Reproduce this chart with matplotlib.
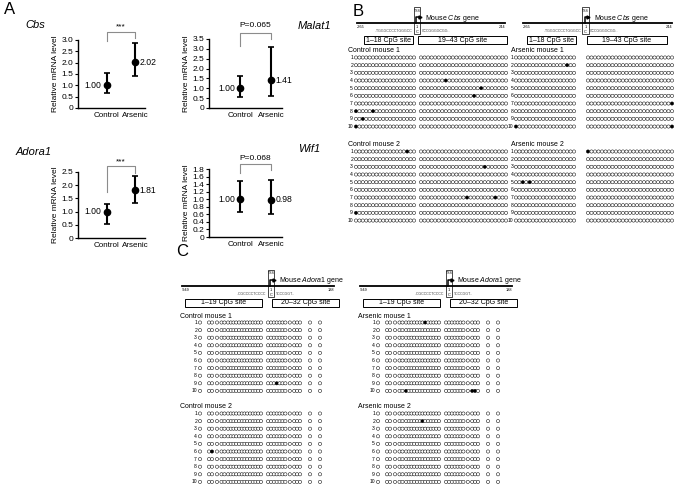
import numpy as np
import matplotlib.pyplot as plt
from matplotlib.patches import Rectangle

plt.rcParams['font.family'] = ['Liberation Sans', 'DejaVu Sans']
plt.rcParams['mathtext.fontset'] = 'custom'
plt.rcParams['mathtext.rm'] = 'Liberation Sans'
plt.rcParams['mathtext.it'] = 'Liberation Sans:italic'

W, H = 677, 493

# ---- panel A: relative mRNA level (mean, lower, upper) ----
groups = ['Control', 'Arsenic']
cbs_mean = [1.00, 2.02]
cbs_lo = [0.68, 1.40]
cbs_hi = [1.55, 2.87]
malat1_mean = [1.00, 1.41]
malat1_lo = [0.58, 0.62]
malat1_hi = [1.63, 3.07]
adora1_mean = [1.00, 1.81]
adora1_lo = [0.53, 1.34]
adora1_hi = [1.27, 2.34]
wif1_mean = [1.00, 0.98]
wif1_lo = [0.67, 0.60]
wif1_hi = [1.48, 1.52]
sig_labels = ['***', 'P=0.065', '***', 'P=0.068']

# ---- panel B/C: methylated CpG sites per clone (row -> sites) ----
cbs_ctrl1 = {4: [26], 5: [36], 6: [34], 8: [1, 6], 9: [3], 10: [1]}
cbs_ctrl2 = {1: [16], 3: [37], 7: [32, 40], 9: [1]}
cbs_ars1 = {2: [16], 7: [43], 10: [1, 43]}
cbs_ars2 = {1: [19], 5: [3, 5]}
adora_ctrl1 = {9: [23]}
adora_ctrl2 = {6: [3]}
adora_ars1 = {1: [14], 10: [7, 28, 29]}
adora_ars2 = {2: [13]}

fig = plt.figure(figsize=(W / 100, H / 100), dpi=100)
ov = fig.add_axes([0, 0, 1, 1])
ov.set_xlim(0, W)
ov.set_ylim(H, 0)
ov.axis('off')


def px_axes(x0, y0, x1, y1):
    return fig.add_axes([x0 / W, 1 - y1 / H, (x1 - x0) / W, (y1 - y0) / H])


def fmt(v):
    return '0' if abs(v) < 1e-9 else f'{v:.1f}'


def dot_plot(box, mean, lo, hi, ymax, step, sig, br, title, title_xy):
    ax = px_axes(*box)
    m = np.array(mean)
    x = np.arange(len(m))
    err = [m - np.array(lo), np.array(hi) - m]
    ax.errorbar(x, m, yerr=err, fmt='o', color='black', ms=4.5,
                elinewidth=1.5, capsize=2, capthick=1.2)
    ax.set_xlim(-1.0, 1.35)
    ax.set_ylim(0, ymax)
    ticks = np.arange(0, ymax + step / 2, step)
    ax.set_yticks(ticks)
    ax.set_yticklabels([fmt(t) for t in ticks])
    ax.set_xticks(x)
    ax.set_xticklabels(groups)
    ax.tick_params(axis='y', labelsize=6, length=2.5, width=0.8, pad=1)
    ax.tick_params(axis='x', labelsize=5.8, length=0, pad=3)
    for s in ['top', 'right']:
        ax.spines[s].set_visible(False)
    for s in ['left', 'bottom']:
        ax.spines[s].set_linewidth(1.0)
    ax.set_ylabel('Relative mRNA level', fontsize=6, labelpad=1.5)
    ax.annotate(f'{m[0]:.2f}', (0, m[0]), xytext=(-3.5, 0), textcoords='offset points',
                ha='right', va='center', fontsize=6.2)
    ax.annotate(f'{m[1]:.2f}', (1, m[1]), xytext=(3, 0), textcoords='offset points',
                ha='left', va='center', fontsize=6.2)
    tr = ax.get_xaxis_transform()
    top, l_end, r_end, t_y = br
    ax.plot([0, 0, 1, 1], [l_end, top, top, r_end], color='#8c8c8c', lw=0.8,
            transform=tr, clip_on=False)
    ax.text(0.5, t_y, sig, transform=tr, ha='center', va='center', fontsize=6)
    ov.text(title_xy[0], title_xy[1], title, fontsize=8, style='italic', va='center')
    return ax


ov.text(4, 9, 'A', fontsize=12, va='center')
dot_plot((78, 40, 145, 108), cbs_mean, cbs_lo, cbs_hi, 3.0, 0.5, sig_labels[0],
         (1.118, 0.99, 1.034, 1.19), 'Cbs', (25, 25))
dot_plot((209, 39, 282, 108), malat1_mean, malat1_lo, malat1_hi, 3.5, 0.5, sig_labels[1],
         (1.087, 0.90, 1.0, 1.19), 'Malat1', (298, 26))
dot_plot((78, 172, 145, 238), adora1_mean, adora1_lo, adora1_hi, 2.5, 0.5, sig_labels[2],
         (1.09, 0.70, 0.985, 1.15), 'Adora1', (16, 152))
dot_plot((209, 169, 282, 237), wif1_mean, wif1_lo, wif1_hi, 1.8, 0.2, sig_labels[3],
         (1.074, 0.94, 0.985, 1.15), 'Wif1', (298, 149))


# ---- gene diagrams ----
def gene_diagram(x0, x1, y, tss_x, gene, ends, boxes, box_labels, seqs):
    ov.plot([x0, x1], [y, y], color='black', lw=1.3)
    ov.text(x0, y + 4, ends[0], fontsize=2.8, va='center', ha='left')
    ov.text(x1, y + 4, ends[1], fontsize=2.8, va='center', ha='right')
    ov.add_patch(Rectangle((tss_x - 3.2, y - 16), 6.4, 27, fill=False, lw=0.5, ec='black'))
    ov.text(tss_x, y - 12.5, 'TSS', fontsize=2.5, ha='center', va='center')
    ov.plot([tss_x - 1, tss_x - 1, tss_x + 1.5], [y, y - 6, y - 6], color='black', lw=1.1)
    ov.plot([tss_x + 2.6], [y - 6], marker='>', ms=2.2, color='black')
    ov.text(tss_x, y + 4, '1', fontsize=2.8, ha='center', va='center')
    ov.text(tss_x, y + 9, 'C', fontsize=2.8, ha='center', va='center')
    ov.text(tss_x + 8, y - 5, r'Mouse $\it{' + gene + '}$ gene', fontsize=5, va='center')
    ov.text(tss_x - 4.5, y + 8.5, seqs[0], fontsize=2.6, ha='right', va='center', color='#444444')
    ov.text(tss_x + 4.5, y + 8.5, seqs[1], fontsize=2.6, ha='left', va='center', color='#444444')
    for (bx0, bx1), lab in zip(boxes, box_labels):
        ov.add_patch(Rectangle((bx0, y + 13), bx1 - bx0, 8, fill=False, lw=0.7, ec='black'))
        ov.text((bx0 + bx1) / 2, y + 17.2, lab, fontsize=5, ha='center', va='center')


def clone_rows(name, lx, ly, num_x, xs, meth, dy, ms, nfs):
    ov.text(lx, ly, name, fontsize=5, va='center')
    for r in range(1, 11):
        yy = ly + 6.5 + (r - 1) * dy
        ov.text(num_x, yy, str(r), fontsize=nfs, ha='right', va='center')
        filled = set(meth.get(r, []))
        fc = ['black' if (i + 1) in filled else 'white' for i in range(len(xs))]
        ov.scatter(xs, np.full(len(xs), yy), s=ms, facecolors=fc, edgecolors='black',
                   linewidths=0.35, zorder=3)


ov.text(353, 12, 'B', fontsize=12, va='center')
cbs_seqs = ['..TGGGCCCCTGGGCC', 'CCCGGGGCGG..']
gene_diagram(357, 505, 23, 417, 'Cbs', ['-265', '244'], [(364, 413), (418, 507)],
             ['1\u201318 CpG site', '19\u201343 CpG site'], cbs_seqs)
gene_diagram(523, 672, 23, 585.5, 'Cbs', ['-265', '244'], [(527, 576), (587, 667)],
             ['1\u201318 CpG site', '19\u201343 CpG site'], cbs_seqs)

xs_l = np.concatenate([np.linspace(356, 414, 18), np.linspace(421, 506, 25)])
xs_r = np.concatenate([np.linspace(516, 574, 18), np.linspace(588, 672, 25)])
clone_rows('Control mouse 1', 348, 51, 353, xs_l, cbs_ctrl1, 7.67, 5.5, 3.6)
clone_rows('Control mouse 2', 348, 145, 353, xs_l, cbs_ctrl2, 7.67, 5.5, 3.6)
clone_rows('Arsenic mouse 1', 511, 51, 513.5, xs_r, cbs_ars1, 7.67, 5.5, 3.6)
clone_rows('Arsenic mouse 2', 511, 145, 513.5, xs_r, cbs_ars2, 7.67, 5.5, 3.6)

# ---- panel C ----
ov.text(176, 252, 'C', fontsize=12, va='center')
adora_seqs = ['..CGCCCCTCCCC', 'TCCCGGT..']
# spacing between neighbouring CpG sites along the Adora1 fragment
gap_pattern = ([0, 9, 3, 5, 4.5, 3, 3.5] + [2.75] * 12 + [7] + [2.9] * 6
               + [4.4, 4.4] + [2.9] * 2 + [10, 10])
c_offsets = np.cumsum(gap_pattern)
for dx, ctrl_name, ars_name, m1, m2 in [(0, 'Control mouse 1', 'Control mouse 2', adora_ctrl1, adora_ctrl2),
                                         (178, 'Arsenic mouse 1', 'Arsenic mouse 2', adora_ars1, adora_ars2)]:
    gene_diagram(182 + dx, 334 + dx, 285.7, 271 + dx, 'Adora1', ['-949', '188'],
                 [(185 + dx, 262 + dx), (272 + dx, 339 + dx)],
                 ['1\u201319 CpG site', '20\u201332 CpG site'], adora_seqs)
    xs = 200 + dx + c_offsets
    clone_rows(ctrl_name, 180 + dx, 316, 197 + dx, xs, m1, 7.6, 5.5, 3.6)
    clone_rows(ars_name, 180 + dx, 407, 197 + dx, xs, m2, 7.6, 5.5, 3.6)

fig.savefig('out.png', dpi=100)
